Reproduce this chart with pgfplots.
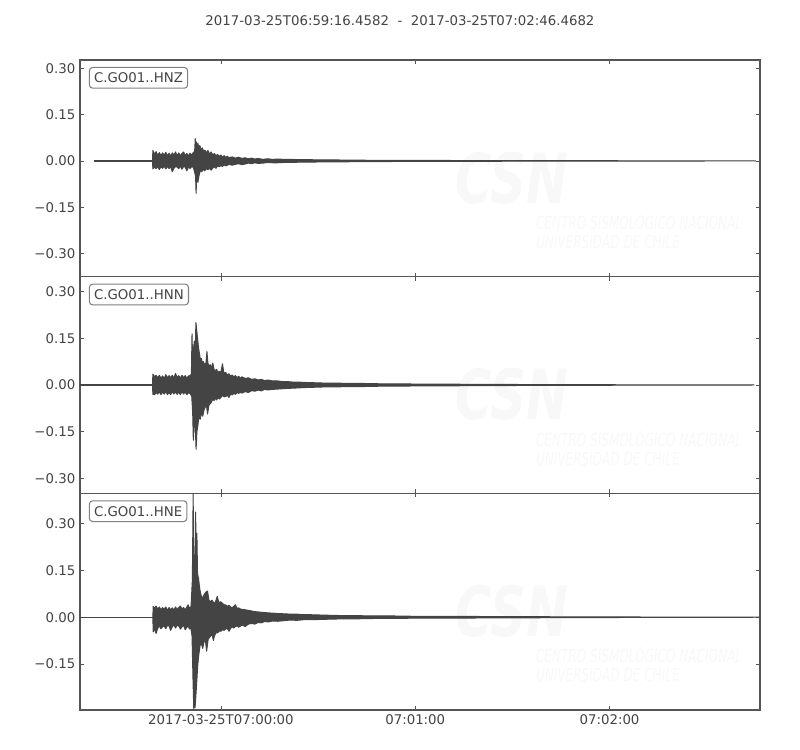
\documentclass[border=0pt]{standalone}
\usepackage{fontspec}
\setmainfont{DejaVu Sans}
\usepackage{pgfplots}
\pgfplotsset{compat=1.18}

\definecolor{trace}{HTML}{444444}
\definecolor{frame}{HTML}{555555}
\definecolor{txt}{HTML}{444444}
\definecolor{wmark}{HTML}{F8F8F8}

% one panel of the seismogram stack
\pgfplotsset{seis/.style={
    scale only axis, width=510pt, height=162.5pt,
    xmin=0, xmax=210.01,
    xtick={43.5418,103.5418,163.5418},
    xticklabels={},
    tick align=inside, major tick length=3pt,
    xtick pos=both, ytick pos=both,
    xticklabel pos=lower, yticklabel pos=left,
    axis line style={frame, line width=0.8pt},
    every tick/.style={frame, line width=0.6pt},
    tick label style={font=\fontsize{10}{12}\selectfont, text=txt},
    clip=true,
  },
  base/.style={trace, line width=0.9pt, no marks},
  env/.style={trace, fill=trace, line width=0.75pt, line join=round, no marks},
}
\tikzset{chan/.style={draw=gray, rounded corners=2.5pt, line width=0.8pt, fill=white,
    inner xsep=3.5pt, inner ysep=4pt, anchor=north west, text=txt,
    font=\fontsize{10}{12}\selectfont}}

\newcommand{\csnmark}{%
  \node[text=wmark, font=\fontsize{52}{52}\selectfont\bfseries\itshape, xscale=0.72]
    at (rel axis cs:0.635,0.455) {CSN};
  \node[text=wmark, font=\fontsize{13.5}{16}\selectfont\itshape, xscale=0.67, anchor=west]
    at (rel axis cs:0.666,0.255) {CENTRO SISMOLÓGICO NACIONAL};
  \node[text=wmark, font=\fontsize{13.5}{16}\selectfont\itshape, xscale=0.67, anchor=west]
    at (rel axis cs:0.666,0.16) {UNIVERSIDAD DE CHILE};
}

\begin{document}
\begin{tikzpicture}
\path[use as bounding box] (0,0) rectangle (600pt,562.5pt);
\node[text=txt, font=\fontsize{10}{12}\selectfont] at (300pt,546.75pt)
  {2017-03-25T06:59:16.4582\ \ -\ \ 2017-03-25T07:02:46.4682};

% HNZ
\begin{axis}[seis, at={(60pt,355pt)}, anchor=south west,
    ymin=-0.375, ymax=0.327,
    ytick={-0.3,-0.15,0,0.15,0.3},
    yticklabels={−0.30,−0.15,0.00,0.15,0.30}]
\csnmark
\addplot[base] coordinates {(4.3,0) (22.5,0)};
% upper envelope, then lower envelope back
\addplot[env] coordinates {
(22.4,0) (22.5,0.034) (23.0,0.022) (23.5,0.030) (24.0,0.018) (24.5,0.027) (25.0,0.017)
(25.5,0.026) (26.0,0.019) (26.5,0.028) (27.0,0.017) (27.5,0.025) (28.0,0.016) (28.5,0.026)
(29.0,0.019) (29.5,0.029) (30.0,0.017) (30.5,0.026) (31.0,0.016) (31.5,0.024) (32.0,0.029)
(32.5,0.017) (33.0,0.024) (33.5,0.016) (34.0,0.025) (34.5,0.018) (35.0,0.028) (35.4,0.030)
(35.6,0.072) (35.75,0.040) (35.9,0.062) (36.1,0.048) (36.4,0.058) (36.7,0.040) (37.0,0.050)
(37.4,0.036) (37.8,0.042) (38.2,0.030) (38.6,0.035) (39.0,0.026) (39.5,0.034) (40.0,0.022)
(40.5,0.029) (41.0,0.019) (41.5,0.024) (42.0,0.017) (42.5,0.021) (43.0,0.014) (43.5,0.019)
(44.0,0.012) (44.5,0.017) (45.0,0.011) (45.5,0.015) (46.0,0.010) (47.0,0.013) (48.0,0.009)
(49.0,0.012) (50.0,0.008) (51.0,0.010) (52.0,0.007) (53.0,0.009) (54.0,0.006) (55.0,0.008)
(56.5,0.005) (58.0,0.007) (59.5,0.005) (61.0,0.006) (63.0,0.005) (65.0,0.005) (68.0,0.004)
(71.0,0.004) (75.0,0.003) (80.0,0.003) (85.0,0.0025) (90,0.002) (100,0.0018) (110,0.0015)
(120,0.0012) (135,0.001) (150,0.0008) (170,0.0005) (190,0.0003) (208.7,0)
(190,-0.0003) (170,-0.0005) (150,-0.0008) (135,-0.001) (120,-0.0012) (110,-0.0015)
(100,-0.0018) (90,-0.002) (85,-0.0025) (80,-0.003) (75,-0.003) (71,-0.004) (68,-0.004)
(65,-0.005) (63,-0.005) (61,-0.006) (59.5,-0.006) (58,-0.005) (56.5,-0.007) (55,-0.008)
(54,-0.006) (53,-0.009) (52,-0.007) (51,-0.010) (50,-0.012) (49,-0.009) (48,-0.011)
(47,-0.014) (46,-0.011) (45.5,-0.014) (45,-0.016) (44.5,-0.013) (44,-0.018) (43.5,-0.015)
(43,-0.019) (42.5,-0.016) (42,-0.024) (41.5,-0.019) (41,-0.023) (40.5,-0.030) (40,-0.024)
(39.5,-0.028) (39,-0.025) (38.5,-0.032) (38,-0.027) (37.6,-0.035) (37.2,-0.030) (36.8,-0.045)
(36.4,-0.070) (36.2,-0.050) (36.0,-0.060) (35.85,-0.105) (35.7,-0.050) (35.5,-0.040)
(35.0,-0.021) (34.5,-0.018) (34.0,-0.025) (33.5,-0.019) (33.0,-0.032) (32.5,-0.020)
(32.0,-0.018) (31.5,-0.027) (31.0,-0.017) (30.5,-0.025) (30.0,-0.020) (29.5,-0.018)
(29.0,-0.024) (28.5,-0.035) (28.0,-0.018) (27.5,-0.025) (27.0,-0.018) (26.5,-0.026)
(26.0,-0.017) (25.5,-0.024) (25.0,-0.019) (24.5,-0.028) (24.0,-0.018) (23.5,-0.025)
(23.0,-0.020) (22.5,-0.026) (22.4,0)
};
\node[chan] at (rel axis cs:0.013,0.968) {C.GO01..HNZ};
\end{axis}

% HNN
\begin{axis}[seis, at={(60pt,192.5pt)}, anchor=south west,
    ymin=-0.347, ymax=0.347,
    ytick={-0.3,-0.15,0,0.15,0.3},
    yticklabels={−0.30,−0.15,0.00,0.15,0.30}]
\csnmark
\addplot[base] coordinates {(0,0) (22.5,0)};
\addplot[env] coordinates {
(22.4,0) (22.5,0.035) (23.0,0.026) (23.5,0.031) (24.0,0.023) (24.5,0.031) (25.0,0.022)
(25.5,0.029) (26.0,0.021) (26.5,0.033) (27.0,0.023) (27.5,0.030) (28.0,0.024) (28.5,0.031)
(29.0,0.022) (29.5,0.037) (30.0,0.024) (30.5,0.030) (31.0,0.022) (31.5,0.031) (32.0,0.024)
(32.5,0.030) (33.0,0.022) (33.5,0.029) (34.0,0.030) (34.4,0.035) (34.6,0.164) (34.8,0.060)
(35.0,0.110) (35.3,0.140) (35.6,0.120) (35.8,0.200) (36.0,0.180) (36.3,0.150) (36.6,0.120)
(36.9,0.100) (37.2,0.080) (37.5,0.085) (37.8,0.070) (38.1,0.075) (38.5,0.065) (38.9,0.070)
(39.2,0.107) (39.5,0.070) (39.8,0.060) (40.2,0.065) (40.6,0.055) (41.0,0.070) (41.4,0.050)
(41.8,0.045) (42.2,0.050) (42.6,0.040) (43.0,0.044) (43.5,0.040) (44.0,0.068) (44.4,0.040)
(45.0,0.040) (45.5,0.032) (46.0,0.036) (46.5,0.028) (47.0,0.032) (47.5,0.026) (48.0,0.030)
(48.5,0.023) (49.0,0.028) (49.5,0.022) (50.0,0.026) (51.0,0.021) (52.0,0.023) (53.0,0.018)
(54.0,0.020) (55.0,0.016) (56.0,0.018) (57.0,0.014) (58.0,0.016) (59.5,0.013) (61.0,0.013)
(62.5,0.011) (64.0,0.011) (66.0,0.009) (68.0,0.009) (70.0,0.008) (73.0,0.007) (76.0,0.006)
(79.0,0.006) (83.0,0.005) (87.0,0.005) (92.0,0.004) (98.0,0.0035) (105.0,0.003) (112.0,0.0028)
(120.0,0.0022) (130.0,0.0018) (140.0,0.0014) (150.0,0.0011) (160.0,0.0009) (170.0,0.0007)
(180.0,0.0005) (190,0.0003) (208.2,0)
(190,-0.0003) (180,-0.0005) (170,-0.0007) (160,-0.0009) (150,-0.0011) (140,-0.0014)
(130,-0.0018) (120,-0.0022) (112,-0.0028) (105,-0.003) (98,-0.0035) (92,-0.004) (87,-0.005)
(83,-0.005) (79,-0.006) (76,-0.006) (73,-0.007) (70,-0.008) (68,-0.009) (66,-0.010)
(64,-0.011) (62.5,-0.012) (61,-0.013) (59.5,-0.014) (58,-0.016) (57,-0.014) (56,-0.019)
(55,-0.016) (54,-0.020) (53,-0.018) (52,-0.024) (51,-0.021) (50,-0.026) (49.5,-0.023)
(49,-0.027) (48.5,-0.024) (48,-0.030) (47.5,-0.027) (47,-0.032) (46.5,-0.029) (46,-0.040)
(45.5,-0.033) (45,-0.037) (44.5,-0.038) (44,-0.033) (43.5,-0.040) (43,-0.045) (42.6,-0.040)
(42.2,-0.048) (41.8,-0.042) (41.4,-0.050) (41.0,-0.045) (40.6,-0.055) (40.2,-0.060)
(39.8,-0.065) (39.4,-0.093) (39.1,-0.070) (38.7,-0.070) (38.3,-0.080) (37.9,-0.100)
(37.5,-0.090) (37.1,-0.110) (36.7,-0.100) (36.4,-0.130) (36.1,-0.150) (35.85,-0.206)
(35.6,-0.130) (35.3,-0.120) (35.0,-0.177) (34.8,-0.090) (34.5,-0.035) (34.0,-0.028)
(33.5,-0.024) (33.0,-0.031) (32.5,-0.022) (32.0,-0.029) (31.5,-0.021) (31.0,-0.031)
(30.5,-0.023) (30.0,-0.030) (29.5,-0.022) (29.0,-0.029) (28.5,-0.021) (28.0,-0.031)
(27.5,-0.024) (27.0,-0.031) (26.5,-0.021) (26.0,-0.029) (25.5,-0.023) (25.0,-0.031)
(24.5,-0.022) (24.0,-0.029) (23.5,-0.024) (23.0,-0.031) (22.5,-0.030) (22.4,0)
};
\node[chan] at (rel axis cs:0.013,0.968) {C.GO01..HNN};
\end{axis}

% HNE
\begin{axis}[seis, at={(60pt,30pt)}, anchor=south west,
    ymin=-0.298, ymax=0.398,
    ytick={-0.15,0,0.15,0.3},
    yticklabels={−0.15,0.00,0.15,0.30},
    xticklabels={2017-03-25T07:00:00,07:01:00,07:02:00}]
\csnmark
\addplot[base] coordinates {(0,0) (22.6,0)};
\addplot[env] coordinates {
(22.5,0) (22.6,0.035) (23.0,0.028) (23.5,0.036) (24.0,0.026) (24.5,0.033) (25.0,0.024)
(25.5,0.031) (26.0,0.026) (26.5,0.033) (27.0,0.022) (27.5,0.031) (28.0,0.024) (28.5,0.030)
(29.0,0.023) (29.5,0.033) (30.0,0.025) (30.5,0.031) (31.0,0.036) (31.5,0.026) (32.0,0.031)
(32.5,0.024) (33.0,0.033) (33.4,0.040) (33.8,0.028) (34.3,0.035) (34.7,0.120) (34.95,0.400)
(35.1,0.150) (35.3,0.200) (35.5,0.180) (35.7,0.338) (35.9,0.200) (36.1,0.270) (36.3,0.140)
(36.6,0.125) (37.0,0.090) (37.4,0.070) (37.8,0.060) (38.2,0.070) (38.8,0.080) (39.4,0.084)
(39.8,0.055) (40.3,0.050) (40.8,0.055) (41.3,0.045) (41.8,0.048) (42.4,0.067) (42.9,0.045)
(43.4,0.050) (44.0,0.045) (44.5,0.040) (45.0,0.040) (45.5,0.035) (46.0,0.038) (46.6,0.032)
(47.2,0.032) (48.0,0.040) (48.5,0.028) (49.0,0.030) (49.6,0.026) (50.2,0.025) (51.0,0.024)
(52.0,0.022) (53.0,0.020) (54.0,0.018) (55.0,0.017) (56.0,0.016) (57.0,0.015) (58.2,0.014)
(59.5,0.013) (61.0,0.012) (63.0,0.011) (65.0,0.010) (67.0,0.010) (69.0,0.008) (71.5,0.008)
(74.5,0.007) (78,0.006) (82,0.005) (86,0.005) (91,0.004) (97,0.004) (103,0.003) (110,0.003)
(118,0.003) (126,0.002) (135,0.002) (146,0.0015) (160,0.001) (180,0.0006) (200,0.0003)
(210.01,0)
(200,-0.0003) (180,-0.0006) (160,-0.001) (146,-0.0015) (135,-0.002) (126,-0.002)
(118,-0.003) (110,-0.003) (103,-0.003) (97,-0.004) (91,-0.004) (86,-0.005) (82,-0.005)
(78,-0.006) (74.5,-0.007) (71.5,-0.008) (69,-0.008) (67,-0.010) (65,-0.009) (63,-0.011)
(61,-0.013) (59.5,-0.012) (58.2,-0.015) (57,-0.014) (56,-0.018) (55,-0.017) (54,-0.022)
(53,-0.020) (52,-0.022) (51,-0.030) (50.2,-0.025) (49.6,-0.028) (49,-0.032) (48.5,-0.028)
(48,-0.030) (47.5,-0.035) (47,-0.030) (46.5,-0.036) (46,-0.045) (45.5,-0.036) (45,-0.038)
(44.5,-0.042) (44,-0.040) (43.5,-0.045) (43,-0.045) (42.5,-0.050) (42,-0.050) (41.5,-0.060)
(41.2,-0.075) (40.8,-0.055) (40.4,-0.060) (40,-0.065) (39.6,-0.070) (39.1,-0.109)
(38.7,-0.070) (38.3,-0.080) (37.9,-0.100) (37.5,-0.085) (37.1,-0.090) (36.7,-0.120)
(36.4,-0.150) (36.1,-0.200) (35.8,-0.250) (35.55,-0.290) (35.3,-0.230) (35.15,-0.300)
(34.9,-0.200) (34.6,-0.060) (34.2,-0.033) (33.8,-0.038) (33.4,-0.028) (33.0,-0.032)
(32.5,-0.040) (32.0,-0.026) (31.5,-0.031) (31.0,-0.038) (30.5,-0.028) (30.0,-0.026)
(29.5,-0.035) (29.0,-0.024) (28.5,-0.031) (28.0,-0.042) (27.5,-0.028) (27.0,-0.026)
(26.5,-0.037) (26.0,-0.028) (25.5,-0.031) (25.0,-0.037) (24.5,-0.028) (24.0,-0.036)
(23.5,-0.052) (23.0,-0.038) (22.6,-0.047) (22.5,0)
};
\node[chan] at (rel axis cs:0.013,0.968) {C.GO01..HNE};
\end{axis}
\end{tikzpicture}
\end{document}
